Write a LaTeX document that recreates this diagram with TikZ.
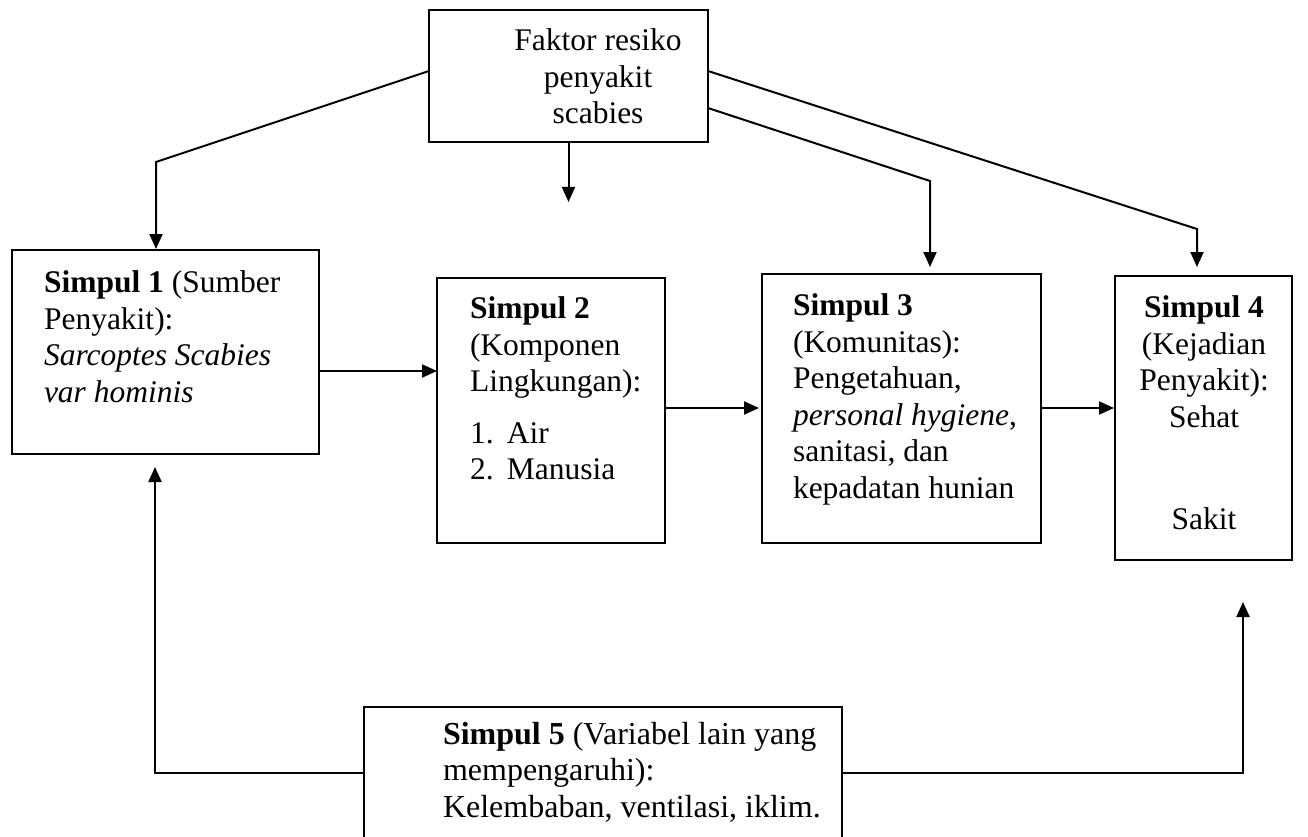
\documentclass[tikz,border=0pt]{standalone}
\usepackage{fontspec}
\setmainfont{Liberation Serif}
\usetikzlibrary{arrows.meta,calc}
\tikzset{
  box/.style={draw, line width=1.4pt, inner sep=0pt, outer sep=0pt, anchor=north west},
  txt/.style={inner sep=0pt, outer sep=0pt, anchor=north west, align=left,
              font=\fontsize{31.5}{36.5}\selectfont},
  conn/.style={line width=2pt},
  arr/.style={conn, -{Triangle[length=15pt,width=13pt]}},
}
\begin{document}
\begin{tikzpicture}[x=1pt,y=-1pt]
\useasboundingbox[fill=white] (0,0) rectangle (1308,837);
% boxes
\node[box, minimum width=279pt, minimum height=132pt] (b0) at (429,10) {};
\node[box, minimum width=307pt, minimum height=204pt] (b1) at (12,250) {};
\node[box, minimum width=228pt, minimum height=265pt] (b2) at (437,278) {};
\node[box, minimum width=279pt, minimum height=269pt] (b3) at (762,274) {};
\node[box, minimum width=177pt, minimum height=284pt] (b4) at (1115,276) {};
\node[box, minimum width=478pt, minimum height=145pt] (b5) at (364,707) {};
% texts
\node[txt, anchor=north, align=center] (t0) at (598,29) {Faktor resiko\\penyakit\\scabies};
\node[txt] (t1) at (44,271) {\textbf{Simpul 1} (Sumber\\Penyakit):\\\textit{Sarcoptes Scabies}\\\textit{var hominis}};
\node[txt] (t2) at (470,297) {\textbf{Simpul 2}\\(Komponen\\Lingkungan):\\[15pt]\makebox[37pt][l]{1.}Air\\\makebox[37pt][l]{2.}Manusia};
\node[txt] (t3) at (793,294) {\textbf{Simpul 3}\\(Komunitas):\\Pengetahuan,\\\textit{personal hygiene},\\sanitasi, dan\\kepadatan hunian};
\node[txt, anchor=north, align=center] (t4) at (1204,296) {\textbf{Simpul 4}\\(Kejadian\\Penyakit):\\Sehat\\[66pt]Sakit};
\node[txt, font={\fontsize{32}{36.5}\selectfont}] (t5) at (443,722) {\textbf{Simpul 5} (Variabel lain yang\\mempengaruhi):\\Kelembaban, ventilasi, iklim.};
% free ends
\coordinate (m0) at ($(b0.south)+(0,60)$);
\coordinate (m4) at (1243,602);
% connectors from top box
\draw[arr] ($(b0.north west)+(0,61)$) -- (156,162) -- ($(b1.north west)+(144,-1)$);
\draw[arr] (b0.south) -- (m0);
\draw[arr] ($(b0.north east)+(0,98)$) -- (930,181) -- ($(b3.north west)+(168,-7)$);
\draw[arr] ($(b0.north east)+(0,61)$) -- (1197,229) -- ($(b4.north west)+(82,-9)$);
% horizontal chain
\draw[arr] ($(b1.north east)+(0,121)$) -- ($(b2.north west)+(0,93)$);
\draw[arr] ($(b2.north east)+(0,130)$) -- ($(b3.north west)+(-3,134)$);
\draw[arr] ($(b3.north east)+(0,134)$) -- ($(b4.north west)+(-1,132)$);
% bottom feedback
\draw[arr] ($(b5.north west)+(0,66)$) -- (155,773) -- ($(b1.south west)+(143,13)$);
\draw[arr] ($(b5.north east)+(0,66)$) -- (1243,773) -- (m4);
\end{tikzpicture}
\end{document}
